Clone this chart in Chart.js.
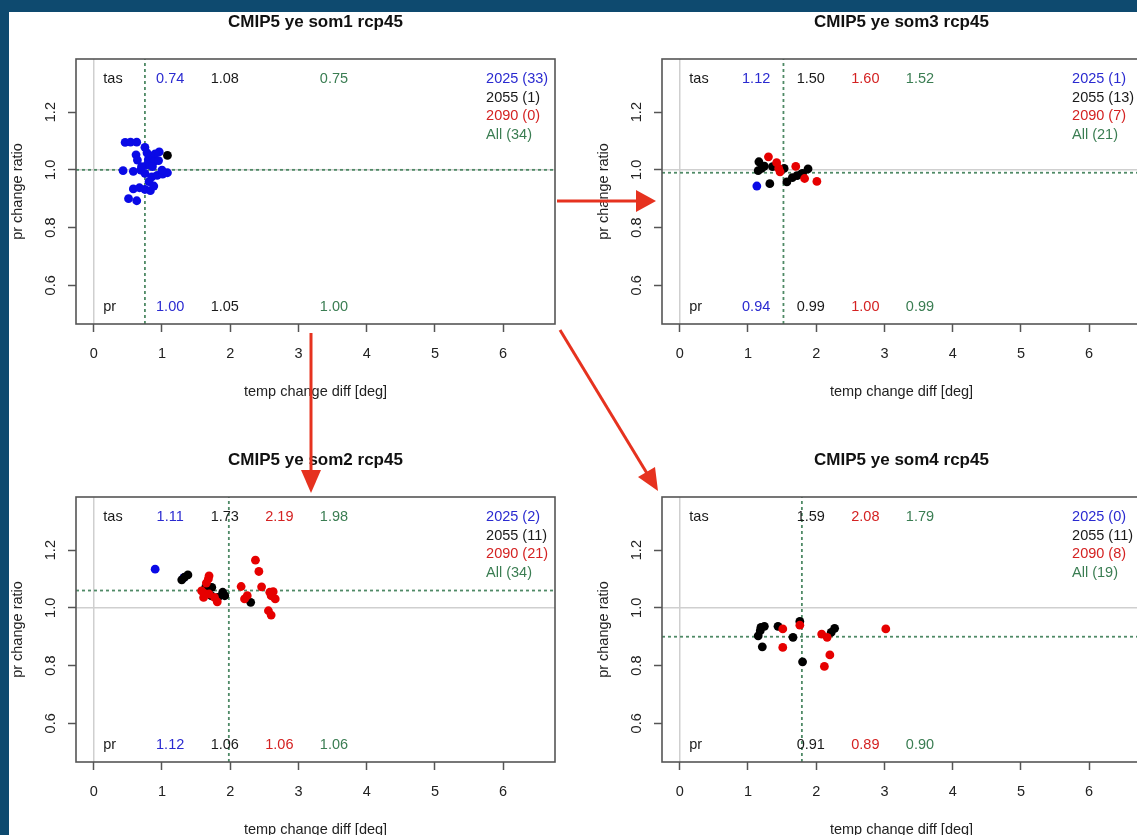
<!DOCTYPE html>
<html>
<head>
<meta charset="utf-8">
<script src="https://cdn.jsdelivr.net/npm/chart.js@4.4.1/dist/chart.umd.min.js"></script>
<style>
  html, body { margin: 0; padding: 0; overflow: hidden; width: 1137px; height: 835px; background: #0e4a6f; }
  #page { position: absolute; left: 9px; top: 12px; width: 1128px; height: 823px; background: #fff; }
  canvas.panel { position: absolute; }
  #arrows { position: absolute; left: 0; top: 0; pointer-events: none; }
</style>
</head>
<body>
<div id="page"></div>
<canvas id="som1" class="panel" width="586" height="438" style="left:0;top:0"></canvas>
<canvas id="som3" class="panel" width="586" height="438" style="left:586px;top:0"></canvas>
<canvas id="som2" class="panel" width="586" height="438" style="left:0;top:438px"></canvas>
<canvas id="som4" class="panel" width="586" height="438" style="left:586px;top:438px"></canvas>
<svg id="arrows" width="1137" height="835">
  <g stroke="#e6321f" stroke-width="3" fill="#e6321f">
    <line x1="557" y1="201" x2="640" y2="201"/>
    <polygon points="656,201 636,190 636,212" stroke="none"/>
    <line x1="311" y1="333" x2="311" y2="474"/>
    <polygon points="311,493 301,470 321,470" stroke="none"/>
    <line x1="560" y1="330" x2="648" y2="475"/>
    <polygon points="658,491 638,477 655,467" stroke="none"/>
  </g>
</svg>
<script>
"use strict";

// axes
const xMin = -0.26, xMax = 6.76;
const yMin = 0.466, yMax = 1.384;
const xTicks = [0, 1, 2, 3, 4, 5, 6];
const yTicks = [0.6, 0.8, 1.0, 1.2];
const years = ["2025", "2055", "2090"];

// som1: points [tas diff, pr ratio] per period
const som1_2025 = [[0.46, 1.095], [0.54, 1.096], [0.63, 1.096], [0.75, 1.078], [0.96, 1.062],
  [0.90, 1.055], [0.83, 1.048], [0.62, 1.052], [0.64, 1.034], [0.80, 1.036], [0.88, 1.028],
  [0.95, 1.032], [0.43, 0.997], [0.58, 0.995], [0.69, 0.999], [0.75, 0.988], [0.85, 0.976],
  [0.93, 0.981], [1.01, 0.985], [1.08, 0.990], [0.81, 0.959], [0.58, 0.934], [0.67, 0.938],
  [0.75, 0.932], [0.83, 0.928], [0.88, 0.944], [0.51, 0.900], [0.63, 0.893], [0.78, 1.017],
  [0.70, 1.011], [0.86, 1.011], [1.00, 0.999], [0.78, 1.059]];
const som1_2055 = [[1.08, 1.05]];
const som1_2090 = [];
const som1Tas = [0.74, 1.08, null, 0.75];
const som1Pr = [1.00, 1.05, null, 1.00];
const som1Counts = [33, 1, 0, 34];

// som3
const som3_2025 = [[1.13, 0.944]];
const som3_2055 = [[1.16, 1.028], [1.15, 0.997], [1.24, 1.013], [1.20, 1.005], [1.32, 0.952],
  [1.36, 1.011], [1.53, 1.005], [1.57, 0.958], [1.65, 0.973], [1.72, 0.980], [1.80, 0.988],
  [1.88, 1.003], [1.78, 0.985]];
const som3_2090 = [[1.30, 1.045], [1.42, 1.025], [1.45, 1.005], [1.47, 0.993], [1.70, 1.012],
  [1.83, 0.970], [2.01, 0.960]];
const som3Tas = [1.12, 1.50, 1.60, 1.52];
const som3Pr = [0.94, 0.99, 1.00, 0.99];
const som3Counts = [1, 13, 7, 21];

// som2
const som2_2025 = [[0.90, 1.134], [1.32, 1.105]];
const som2_2055 = [[1.29, 1.097], [1.33, 1.106], [1.38, 1.114], [1.64, 1.071], [1.73, 1.071],
  [1.72, 1.042], [1.89, 1.054], [1.92, 1.042], [1.82, 1.036], [2.30, 1.019], [1.66, 1.055]];
const som2_2090 = [[1.69, 1.111], [1.68, 1.100], [1.65, 1.086], [1.58, 1.059], [1.61, 1.036],
  [1.69, 1.048], [1.81, 1.021], [1.77, 1.036], [1.62, 1.050], [2.16, 1.074], [2.25, 1.042],
  [2.21, 1.031], [2.37, 1.165], [2.42, 1.126], [2.46, 1.073], [2.58, 1.054], [2.63, 1.056],
  [2.66, 1.031], [2.60, 1.042], [2.56, 0.990], [2.60, 0.975]];
const som2Tas = [1.11, 1.73, 2.19, 1.98];
const som2Pr = [1.12, 1.06, 1.06, 1.06];
const som2Counts = [2, 11, 21, 34];

// som4
const som4_2025 = [];
const som4_2055 = [[1.15, 0.903], [1.18, 0.921], [1.19, 0.932], [1.24, 0.936], [1.21, 0.865],
  [1.44, 0.936], [1.66, 0.898], [1.76, 0.953], [1.80, 0.813], [2.22, 0.915], [2.27, 0.929]];
const som4_2090 = [[1.51, 0.927], [1.51, 0.863], [1.76, 0.940], [2.08, 0.909], [2.16, 0.898],
  [2.20, 0.837], [2.12, 0.797], [3.02, 0.927]];
const som4Tas = [null, 1.59, 2.08, 1.79];
const som4Pr = [null, 0.91, 0.89, 0.90];
const som4Counts = [0, 11, 8, 19];

// styling / text placement (data units)
const FONT = "'Liberation Sans', Arial, Helvetica, sans-serif";
const dotColors = ["#0a0ae6", "#000000", "#e60000"];
const textColors = ["#2a2ad0", "#1a1a1a", "#d42222", "#3a7d52"];
const dashColor = "#4f8a66";
const refColor = "#cfcfcf";
const rowLabelX = 0.14;
const colX = [1.12, 1.92, 2.72, 3.52];
const tasRowY = 1.314;
const prRowY = 0.526;
const legendX = 5.75;
const legendRowsY = [1.314, 1.249, 1.185, 1.120];

const panelText = {
  id: "panelText",
  afterDatasetsDraw(chart, args, opts) {
    const { ctx, chartArea: a } = chart;
    const x = chart.scales.x, y = chart.scales.y;
    ctx.save();
    ctx.font = `14.5px ${FONT}`;
    ctx.textBaseline = "middle";

    ctx.textAlign = "left";
    ctx.fillStyle = textColors[1];
    ctx.fillText("tas", x.getPixelForValue(rowLabelX), y.getPixelForValue(tasRowY));
    ctx.fillText("pr", x.getPixelForValue(rowLabelX), y.getPixelForValue(prRowY));

    ctx.textAlign = "center";
    opts.tas.forEach((v, i) => {
      if (v === null) return;
      ctx.fillStyle = textColors[i];
      ctx.fillText(v.toFixed(2), x.getPixelForValue(colX[i]), y.getPixelForValue(tasRowY));
    });
    opts.pr.forEach((v, i) => {
      if (v === null) return;
      ctx.fillStyle = textColors[i];
      ctx.fillText(v.toFixed(2), x.getPixelForValue(colX[i]), y.getPixelForValue(prRowY));
    });

    ctx.textAlign = "left";
    const names = years.concat(["All"]);
    names.forEach((name, i) => {
      ctx.fillStyle = textColors[i];
      ctx.fillText(`${name} (${opts.counts[i]})`, x.getPixelForValue(legendX), y.getPixelForValue(legendRowsY[i]));
    });

    ctx.strokeStyle = "#555555";
    ctx.lineWidth = 1.6;
    ctx.strokeRect(a.left, a.top, a.right - a.left, a.bottom - a.top);
    ctx.restore();
  },
};

function toXY(points) {
  return points.map(([x, y]) => ({ x, y }));
}

function refLine(data, color, dash, order) {
  return {
    type: "line",
    data: data,
    borderColor: color,
    borderWidth: dash ? 1.8 : 1.5,
    borderDash: dash ? [3, 3] : [],
    pointRadius: 0,
    order: order,
  };
}

function buildPanel(id, title, groups, tas, pr, counts) {
  const allTas = tas[3], allPr = pr[3];
  const datasets = [
    refLine([{ x: 0, y: yMin }, { x: 0, y: yMax }], refColor, false, 20),
    refLine([{ x: xMin, y: 1 }, { x: xMax, y: 1 }], refColor, false, 20),
    refLine([{ x: allTas, y: yMin }, { x: allTas, y: yMax }], dashColor, true, 10),
    refLine([{ x: xMin, y: allPr }, { x: xMax, y: allPr }], dashColor, true, 10),
  ];
  groups.forEach((pts, i) => {
    datasets.push({
      type: "scatter",
      label: years[i],
      data: toXY(pts),
      backgroundColor: dotColors[i],
      borderWidth: 0,
      pointRadius: 4.4,
      order: 3 - i,
    });
  });

  const tickFont = { family: FONT, size: 14.5 };
  return new Chart(document.getElementById(id), {
    type: "scatter",
    data: { datasets: datasets },
    plugins: [panelText],
    options: {
      responsive: false,
      animation: false,
      events: [],
      layout: { padding: { left: 0, top: 0, right: 31, bottom: 0 } },
      plugins: {
        legend: { display: false },
        tooltip: { enabled: false },
        title: {
          display: true,
          text: title,
          fullSize: false,
          color: "#111",
          font: { family: FONT, size: 17, weight: "bold" },
          padding: { top: 11.8, bottom: 26.8 },
        },
        panelText: { tas: tas, pr: pr, counts: counts },
      },
      scales: {
        x: {
          type: "linear",
          min: xMin,
          max: xMax,
          afterBuildTicks: (s) => { s.ticks = xTicks.map((v) => ({ value: v })); },
          afterFit: (s) => { s.height = 114; },
          border: { display: false },
          grid: { drawOnChartArea: false, drawTicks: true, tickLength: 8, tickColor: "#555", tickWidth: 1.5 },
          ticks: { font: tickFont, color: "#222", padding: 13, callback: (v) => String(v) },
          title: {
            display: true,
            text: "temp change diff [deg]",
            color: "#222",
            font: tickFont,
            padding: { top: 0, bottom: 37.6 },
          },
        },
        y: {
          type: "linear",
          min: yMin,
          max: yMax,
          afterBuildTicks: (s) => { s.ticks = yTicks.map((v) => ({ value: v })); },
          afterFit: (s) => { s.width = 76; },
          border: { display: false },
          grid: { drawOnChartArea: false, drawTicks: true, tickLength: 8, tickColor: "#555", tickWidth: 1.5 },
          ticks: {
            font: tickFont,
            color: "#222",
            padding: 7,
            minRotation: 90,
            maxRotation: 90,
            crossAlign: "center",
            callback: (v) => v.toFixed(1),
          },
          title: {
            display: true,
            text: "pr change ratio",
            color: "#222",
            font: tickFont,
            padding: { top: 9.6, bottom: 0 },
          },
        },
      },
    },
  });
}

function main() {
  buildPanel("som1", "CMIP5 ye som1 rcp45", [som1_2025, som1_2055, som1_2090], som1Tas, som1Pr, som1Counts);
  buildPanel("som3", "CMIP5 ye som3 rcp45", [som3_2025, som3_2055, som3_2090], som3Tas, som3Pr, som3Counts);
  buildPanel("som2", "CMIP5 ye som2 rcp45", [som2_2025, som2_2055, som2_2090], som2Tas, som2Pr, som2Counts);
  buildPanel("som4", "CMIP5 ye som4 rcp45", [som4_2025, som4_2055, som4_2090], som4Tas, som4Pr, som4Counts);
}

main();
</script>
</body>
</html>
